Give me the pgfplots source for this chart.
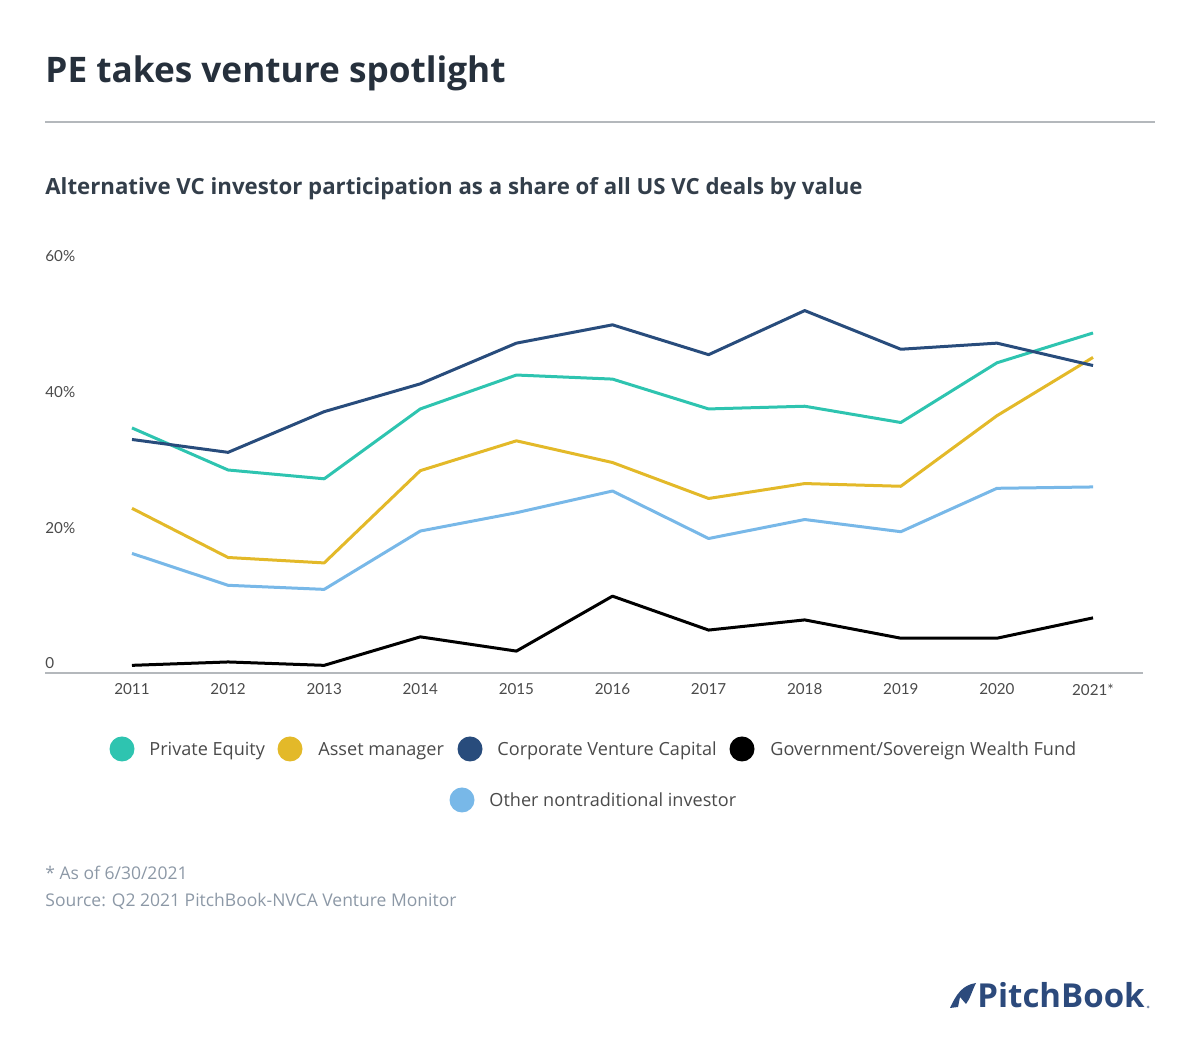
\documentclass[border=0pt]{standalone}
\usepackage{pgfplots}
\pgfplotsset{compat=1.18}
\usepackage{fontspec}
\setmainfont{Open Sans}
\newfontfamily\latofont{Lato}
\definecolor{cPE}{HTML}{2EC4B0}
\definecolor{cAM}{HTML}{E3B929}
\definecolor{cCVC}{HTML}{284C7C}
\definecolor{cGOV}{HTML}{000000}
\definecolor{cOTH}{HTML}{78B8E8}
\definecolor{ctitle}{HTML}{26303C}
\definecolor{csub}{HTML}{333E4A}
\definecolor{ctick}{HTML}{4A4A4A}
\definecolor{cfoot}{HTML}{8C98A6}
\definecolor{crule}{HTML}{B4B8BC}
\definecolor{clogo}{HTML}{2C4A7C}
\begin{document}
\begin{tikzpicture}[x=0.5pt,y=0.5pt]
\path (0,0) rectangle (1200,1037);
\coordinate (A) at (45,363.5);
% title
\node[anchor=base west,inner sep=0,text=ctitle,font=\fontsize{17.6}{20}\selectfont\bfseries] at (45,954) {PE takes venture spotlight};
\draw[crule,line width=1pt] (45,915) -- (1155,915);
\node[anchor=base west,inner sep=0,text=csub,font=\fontsize{11.12}{13}\selectfont\bfseries] at (45,842) {Alternative VC investor participation as a share of all US VC deals by value};
\begin{axis}[
  at={(A)}, anchor=south west,
  scale only axis, width=549pt, height=203.5pt,
  xmin=2010.095, xmax=2021.52, ymin=0, ymax=60,
  clip=false,
  axis x line*=bottom, axis y line*=left,
  x axis line style={draw=crule,line width=1pt,-},
  y axis line style={draw=none},
  major tick length=0pt,
  xtick={2011,2012,2013,2014,2015,2016,2017,2018,2019,2020,2021},
  xticklabels={2011,2012,2013,2014,2015,2016,2017,2018,2019,2020,2021*},
  ytick={0,20,40,60},
  yticklabels={0,20\%,40\%,60\%},
  xticklabel style={anchor=north,inner sep=0pt,yshift=-5pt,text=ctick,font=\latofont\fontsize{7.6}{9}\selectfont},
  yticklabel style={anchor=south west,inner sep=0pt,yshift=2pt,text=ctick,font=\latofont\fontsize{7.6}{9}\selectfont},
  every axis plot/.append style={line width=1.5pt,line join=round,mark=none},
]
\addplot[cPE] coordinates {(2011,36.2)(2012,30.0)(2013,28.7)(2014,39.0)(2015,44.0)(2016,43.4)(2017,39.0)(2018,39.4)(2019,37.0)(2020,45.8)(2021,50.2)};
\addplot[cAM] coordinates {(2011,24.35)(2012,17.1)(2013,16.3)(2014,29.9)(2015,34.3)(2016,31.1)(2017,25.8)(2018,28.0)(2019,27.6)(2020,38.0)(2021,46.6)};
\addplot[cOTH] coordinates {(2011,17.7)(2012,13.0)(2013,12.4)(2014,21.0)(2015,23.7)(2016,26.9)(2017,19.9)(2018,22.7)(2019,20.9)(2020,27.3)(2021,27.5)};
\addplot[cGOV] coordinates {(2011,1.2)(2012,1.7)(2013,1.2)(2014,5.4)(2015,3.3)(2016,11.4)(2017,6.4)(2018,7.9)(2019,5.2)(2020,5.2)(2021,8.2)};
\addplot[cCVC] coordinates {(2011,34.5)(2012,32.6)(2013,38.6)(2014,42.7)(2015,48.7)(2016,51.4)(2017,47.0)(2018,53.5)(2019,47.8)(2020,48.7)(2021,45.4)};
\end{axis}
% legend
\begin{scope}[every node/.style={anchor=base west,inner sep=0,text=ctick,font=\fontsize{9.05}{11}\selectfont}]
\fill[cPE] (122,288) circle (12.5);
\node at (149,281.5) {Private Equity};
\fill[cAM] (290,288) circle (12.5);
\node at (318,281.5) {Asset manager};
\fill[cCVC] (470,288) circle (12.5);
\node at (497,281.5) {Corporate Venture Capital};
\fill[cGOV] (742,288) circle (12.5);
\node at (770,281.5) {Government/Sovereign Wealth Fund};
\fill[cOTH] (462,237) circle (12.5);
\node at (489,230.5) {Other nontraditional investor};
\end{scope}
% footnotes
\node[anchor=base west,inner sep=0,text=cfoot,font=\fontsize{8.75}{11}\selectfont] at (45,157) {* As of 6/30/2021};
\node[anchor=base west,inner sep=0,text=cfoot,font=\fontsize{8.75}{11}\selectfont] at (45,130) {Source: Q2 2021 PitchBook-NVCA Venture Monitor};
% logo
\fill[clogo] (950,29) .. controls (956,42) and (962,52) .. (976,54) .. controls (972,46) and (970,38) .. (966,33) -- (960,40) -- (958,30) -- cycle;
\node[anchor=base west,inner sep=0,text=clogo,font=\fontsize{16.5}{18}\selectfont\bfseries] at (977,29) {PitchBook};
\fill[clogo!60] (1148,30) circle (1.5);
\end{tikzpicture}
\end{document}
